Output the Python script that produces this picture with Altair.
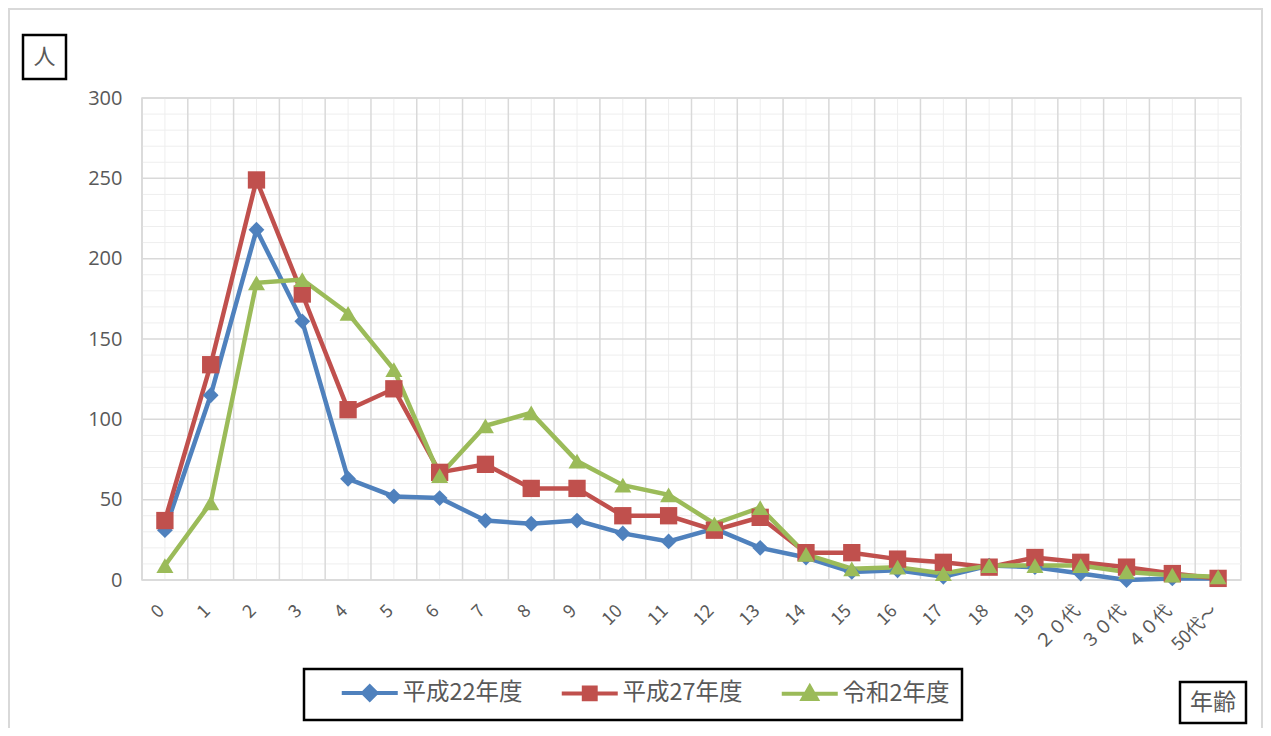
import altair as alt
import pandas as pd

# ---- data ----
ages = ["0", "1", "2", "3", "4", "5", "6", "7", "8", "9", "10", "11", "12",
        "13", "14", "15", "16", "17", "18", "19", "２０代", "３０代", "４０代", "50代～"]
series = ["平成22年度", "平成27年度", "令和2年度"]
h22 = [31, 115, 218, 161, 63, 52, 51, 37, 35, 37, 29, 24, 32, 20, 14, 5, 6, 2, 9, 8, 4, 0, 1, 1]
h27 = [37, 134, 249, 178, 106, 119, 67, 72, 57, 57, 40, 40, 31, 39, 17, 17, 13, 11, 8, 14, 11, 8, 4, 1]
r2 = [9, 48, 185, 187, 166, 131, 65, 96, 104, 74, 59, 53, 35, 45, 16, 7, 8, 4, 9, 9, 9, 5, 3, 2]
y_major = [0, 50, 100, 150, 200, 250, 300]
y_minor = [10, 20, 30, 40, 60, 70, 80, 90, 110, 120, 130, 140, 160, 170, 180, 190,
           210, 220, 230, 240, 260, 270, 280, 290]

colors = ["#4F81BD", "#C0504D", "#9BBB59"]
shapes = ["diamond", "square", "triangle-up"]
sizes = [250, 300, 290]
legend_paths = [
    "M-4,0H4M0,-0.95L0.95,0L0,0.95L-0.95,0Z",
    "M-4,0H4M-0.85,-0.85H0.85V0.85H-0.85Z",
    "M-4,0H4M0,-1L1,0.75H-1Z",
]

FONT = "Noto Sans CJK JP"
GRAY = "#595959"

rows = []
for s, vals in zip(series, [h22, h27, r2]):
    for a, v in zip(ages, vals):
        rows.append({"age": a, "series": s, "value": v})
df = pd.DataFrame(rows)
cat_df = pd.DataFrame({"age": ages})
ymaj_df = pd.DataFrame({"value": y_major})
ymin_df = pd.DataFrame({"value": y_minor})
one = pd.DataFrame({"k": [0]})

W, H = 1099, 482

xscale = alt.Scale(type="band", domain=ages, paddingInner=0, paddingOuter=0)
yscale = alt.Scale(domain=[0, 300], nice=False, zero=True)

x_axis = alt.Axis(title=None, labelAngle=-45, labelAlign="right", labelBaseline="middle",
                  labelFont=FONT, labelFontSize=18, labelColor=GRAY, labelPadding=28,
                  labelOffset=-3, ticks=False, domain=False, grid=False, labelOverlap=False)
y_axis = alt.Axis(title=None, values=y_major, labelFont="Open Sans", labelFontSize=20,
                  labelColor=GRAY, labelPadding=20, ticks=False, domain=False, grid=False)


def X(bp, axis=None):
    if axis is None:
        return alt.X("age:N", sort=ages, scale=xscale, bandPosition=bp)
    return alt.X("age:N", sort=ages, scale=xscale, bandPosition=bp, axis=axis)


def Y(axis=None):
    if axis is None:
        return alt.Y("value:Q", scale=yscale)
    return alt.Y("value:Q", scale=yscale, axis=axis)


minor_v = alt.Chart(cat_df).mark_rule(color="#EEEEEE", strokeWidth=1).encode(x=X(0.5, x_axis))
minor_h = alt.Chart(ymin_df).mark_rule(color="#EEEEEE", strokeWidth=1).encode(y=Y(y_axis))
major_v = alt.Chart(cat_df).mark_rule(color="#D9D9D9", strokeWidth=1.5).encode(x=X(0))
major_h = alt.Chart(ymaj_df).mark_rule(color="#D9D9D9", strokeWidth=1.5).encode(y=Y())

line_layers = []
point_layers = []
for s, c, sh, sz in zip(series, colors, shapes, sizes):
    base = alt.Chart(df).transform_filter(alt.datum.series == s)
    line_layers.append(base.mark_line(strokeWidth=4.5, color=c).encode(x=X(0.5), y=Y()))
    point_layers.append(
        base.mark_point(filled=True, shape=sh, size=sz, color=c, opacity=1).encode(x=X(0.5), y=Y())
    )

legend = alt.Legend(title=None, orient="none", legendX=162, legendY=571, direction="horizontal",
                    labelFont=FONT, labelFontSize=23.5, labelColor=GRAY,
                    symbolSize=196, symbolStrokeWidth=4, symbolOffset=42, labelOffset=21,
                    columnPadding=13, padding=12, strokeColor="black")
leg_df = pd.DataFrame({"series": series, "age": [ages[0]] * 3, "value": [-100] * 3})
legend_layer = alt.Chart(leg_df).mark_point(filled=True, clip=True, size=196, opacity=1).encode(
    x=X(0.5),
    y=Y(),
    fill=alt.Fill("series:N", scale=alt.Scale(domain=series, range=colors), legend=legend),
    stroke=alt.Stroke("series:N", scale=alt.Scale(domain=series, range=colors), legend=legend),
    shape=alt.Shape("series:N", scale=alt.Scale(domain=series, range=legend_paths), legend=legend),
)

# decorations: outer frame, unit box, axis-name box
frame = alt.Chart(one).mark_rect(fill="white", fillOpacity=0, stroke="#D9D9D9", strokeWidth=2).encode(
    x=alt.value(-133), x2=alt.value(1120), y=alt.value(-89), y2=alt.value(700))
unit_box = alt.Chart(one).mark_rect(fill="white", fillOpacity=0, stroke="black", strokeWidth=2.5).encode(
    x=alt.value(-119), x2=alt.value(-76), y=alt.value(-63), y2=alt.value(-19))
unit_text = alt.Chart(one).mark_text(text="人", font=FONT, fontSize=22, color=GRAY,
                                     align="center", baseline="middle").encode(
    x=alt.value(-97.5), y=alt.value(-41))
age_box = alt.Chart(one).mark_rect(fill="white", fillOpacity=0, stroke="black", strokeWidth=2.5).encode(
    x=alt.value(1038), x2=alt.value(1104), y=alt.value(584), y2=alt.value(625))
age_text = alt.Chart(one).mark_text(text="年齢", font=FONT, fontSize=23, color=GRAY,
                                    align="center", baseline="middle").encode(
    x=alt.value(1071), y=alt.value(604.5))

chart = alt.layer(
    minor_v, minor_h, major_v, major_h, *line_layers, *point_layers, legend_layer,
    frame, unit_box, unit_text, age_box, age_text,
).properties(
    width=W, height=H,
    autosize=alt.AutoSizeParams(type="none"),
    padding={"left": 134, "top": 90, "right": 22, "bottom": 148},
    background="white",
).configure_view(
    stroke="#D9D9D9", strokeWidth=1.5
).configure_axis(
    grid=False, ticks=False, domain=False, title=None
).configure_legend(
    strokeWidth=2.5
)

chart.save("out.html", embed_options={"renderer": "svg", "actions": False})
